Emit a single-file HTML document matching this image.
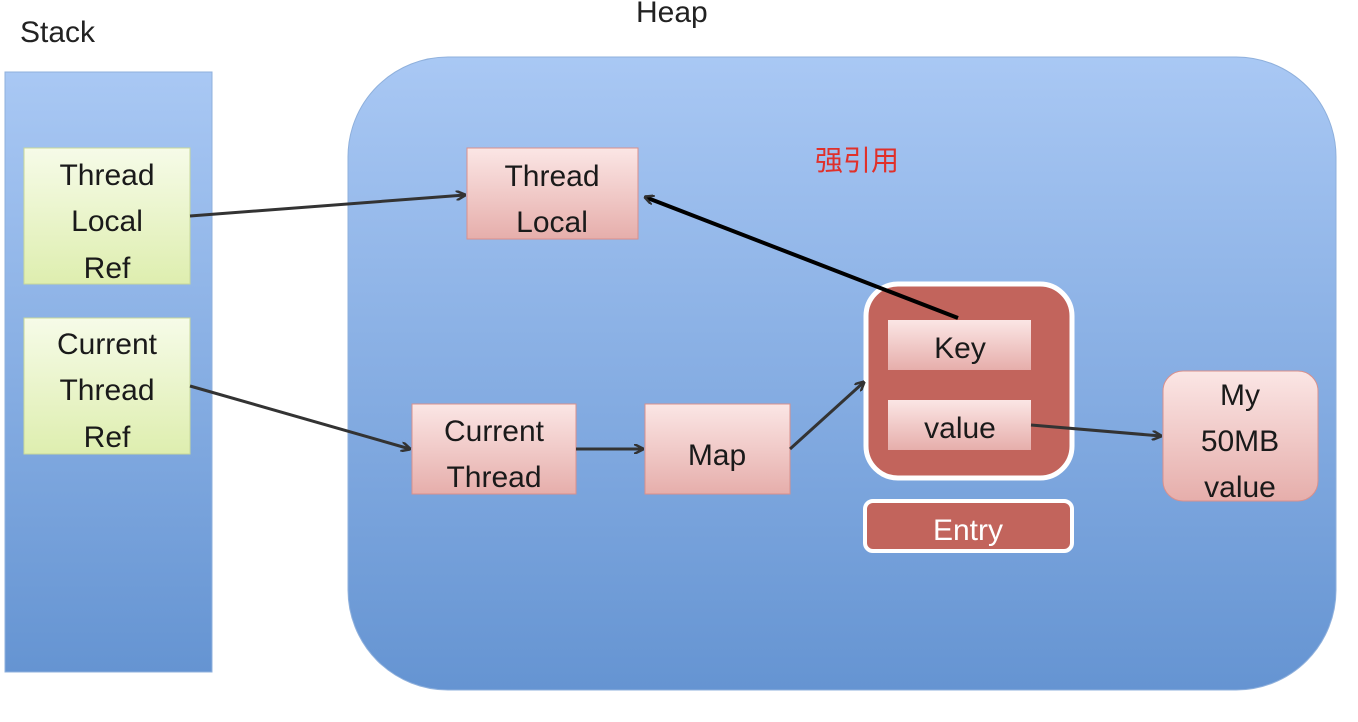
<!DOCTYPE html>
<html><head><meta charset="utf-8"><style>body{margin:0;background:#fff}svg{display:block}</style></head><body>
<svg width="1358" height="722" viewBox="0 0 1358 722" xmlns="http://www.w3.org/2000/svg" font-family="Liberation Sans, sans-serif">
<defs>
<linearGradient id="bg" x1="0" y1="0" x2="0" y2="1"><stop offset="0" stop-color="#a9c8f4"/><stop offset="1" stop-color="#6594d2"/></linearGradient>
<linearGradient id="gr" x1="0" y1="0" x2="0" y2="1"><stop offset="0" stop-color="#f6fbe8"/><stop offset="1" stop-color="#deeeaf"/></linearGradient>
<linearGradient id="pk" x1="0" y1="0" x2="0" y2="1"><stop offset="0" stop-color="#fbe6e5"/><stop offset="1" stop-color="#e6aeab"/></linearGradient>
<marker id="a" markerWidth="10" markerHeight="10" refX="9" refY="5" orient="auto" markerUnits="userSpaceOnUse"><path d="M0,0 L10,5 L0,10" fill="none" stroke="#333" stroke-width="2.5"/></marker>
</defs>
<text x="20" y="42" font-size="30" fill="#222">Stack</text>
<text x="636" y="22" font-size="30" fill="#222">Heap</text>
<rect x="5" y="72" width="207" height="600" fill="url(#bg)" stroke="#8fb0dc"/>
<rect x="348" y="57" width="988" height="633" rx="100" fill="url(#bg)" stroke="#8fb0dc"/>
<g font-size="30" fill="#1a1a1a" text-anchor="middle">
<rect x="24" y="148" width="166" height="136" fill="url(#gr)" stroke="#c8d89a"/>
<text x="107" y="185">Thread</text><text x="107" y="231">Local</text><text x="107" y="278">Ref</text>
<rect x="24" y="318" width="166" height="136" fill="url(#gr)" stroke="#c8d89a"/>
<text x="107" y="354">Current</text><text x="107" y="400">Thread</text><text x="107" y="447">Ref</text>
<rect x="467" y="148" width="171" height="91" fill="url(#pk)" stroke="#d9908c"/>
<text x="552" y="186">Thread</text><text x="552" y="232">Local</text>
<rect x="412" y="404" width="164" height="90" fill="url(#pk)" stroke="#d9908c"/>
<text x="494" y="441">Current</text><text x="494" y="487">Thread</text>
<rect x="645" y="404" width="145" height="90" fill="url(#pk)" stroke="#d9908c"/>
<text x="717" y="465">Map</text>
<rect x="866" y="284" width="206" height="194" rx="32" fill="#c2645c" stroke="#fff" stroke-width="5"/>
<rect x="888" y="320" width="143" height="50" fill="url(#pk)"/>
<text x="960" y="358">Key</text>
<rect x="888" y="400" width="143" height="50" fill="url(#pk)"/>
<text x="960" y="438">value</text>
<rect x="865" y="501" width="207" height="50" rx="8" fill="#c2645c" stroke="#fff" stroke-width="4"/>
<text x="968" y="540" fill="#fff">Entry</text>
<rect x="1163" y="371" width="155" height="130" rx="20" fill="url(#pk)" stroke="#d9908c"/>
<text x="1240" y="405">My</text><text x="1240" y="451">50MB</text><text x="1240" y="497">value</text>
</g>
<text x="815" y="170" font-size="28" fill="#e0302a" font-family="Noto Sans CJK SC, sans-serif">强引用</text>
<g stroke="#333" stroke-width="3" fill="none" marker-end="url(#a)">
<line x1="190" y1="216" x2="465" y2="195"/>
<line x1="190" y1="386" x2="410" y2="449"/>
<line x1="576" y1="449" x2="643" y2="449"/>
<line x1="790" y1="449" x2="864" y2="382"/>
<line x1="1031" y1="425" x2="1161" y2="436"/>
</g>
<line x1="958" y1="318" x2="645" y2="197" stroke="#000" stroke-width="4" marker-end="url(#a)"/>
</svg>
</body></html>
